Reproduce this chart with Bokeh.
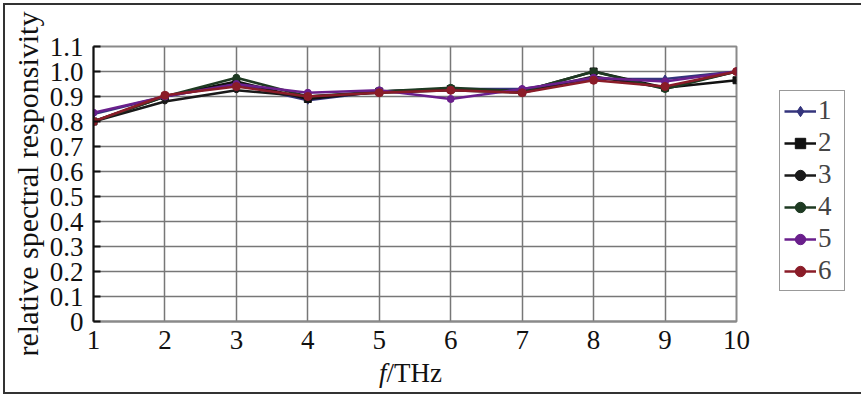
from bokeh.plotting import figure
from bokeh.models import Legend, LegendItem, FixedTicker, Div
from bokeh.layouts import column
from bokeh.embed import file_html
from bokeh.resources import INLINE

freq = [1, 2, 3, 4, 5, 6, 7, 8, 9, 10]
s1 = [0.83, 0.90, 0.95, 0.885, 0.92, 0.93, 0.93, 0.97, 0.97, 1.00]
s2 = [0.80, 0.90, 0.96, 0.89, 0.92, 0.93, 0.92, 1.00, 0.935, 0.965]
s3 = [0.80, 0.88, 0.925, 0.90, 0.915, 0.925, 0.915, 0.98, 0.935, 1.00]
s4 = [0.80, 0.90, 0.975, 0.90, 0.92, 0.935, 0.92, 1.00, 0.93, 1.00]
s5 = [0.835, 0.90, 0.95, 0.915, 0.925, 0.89, 0.93, 0.975, 0.96, 1.00]
s6 = [0.80, 0.905, 0.94, 0.90, 0.915, 0.925, 0.915, 0.965, 0.94, 1.00]
names = ["1", "2", "3", "4", "5", "6"]
series = [s1, s2, s3, s4, s5, s6]
colors = ["#34347c", "#111111", "#1a1a1a", "#1e3a22", "#6a1f8c", "#8a1c28"]
markers = ["diamond", "square", "circle", "circle", "circle", "circle"]
msizes = [8, 7, 5, 7, 7, 8]
yticks = [0, 0.1, 0.2, 0.3, 0.4, 0.5, 0.6, 0.7, 0.8, 0.9, 1.0, 1.1]
ytick_labels = ["0", "0.1", "0.2", "0.3", "0.4", "0.5", "0.6", "0.7", "0.8", "0.9", "1.0", "1.1"]

FONT = "Liberation Serif"

p = figure(frame_width=643, frame_height=275, x_range=(1, 10), y_range=(0, 1.1),
           output_backend="svg", toolbar_location=None,
           min_border_left=88, min_border_right=117, min_border_top=41, min_border_bottom=34)
p.outline_line_color = "#8a8a8a"
p.outline_line_width = 2

p.xaxis.ticker = FixedTicker(ticks=freq)
p.yaxis.ticker = FixedTicker(ticks=yticks)
p.yaxis.major_label_overrides = {t: l for t, l in zip(yticks, ytick_labels)}
for ax in (p.xaxis, p.yaxis):
    ax.major_label_text_font = FONT
    ax.major_label_text_font_size = "27px"
    ax.major_label_text_color = "#111"
    ax.minor_tick_line_color = None
p.xaxis.major_tick_line_color = None
p.xaxis.axis_line_color = "#8a8a8a"
p.xaxis.axis_line_width = 2
p.xaxis.major_label_standoff = 3
p.yaxis.axis_line_color = "#111"
p.yaxis.axis_line_width = 2
p.yaxis.major_tick_in = 7
p.yaxis.major_tick_out = 0
p.yaxis.major_tick_line_width = 2
p.yaxis.major_tick_line_color = "#111"
p.yaxis.major_label_standoff = 10
p.yaxis.axis_label = "relative spectral responsivity"
p.yaxis.axis_label_text_font = FONT
p.yaxis.axis_label_text_font_size = "30px"
p.yaxis.axis_label_text_font_style = "normal"
p.yaxis.axis_label_text_color = "#111"
p.yaxis.axis_label_standoff = 3

p.xgrid.grid_line_color = "#777"
p.xgrid.grid_line_width = 1.5
p.ygrid.grid_line_color = "#777"
p.ygrid.grid_line_width = 1.5

items = []
for name, ys, c, m, ms in zip(names, series, colors, markers, msizes):
    r1 = p.line(freq, ys, line_color=c, line_width=2.5)
    r2 = p.scatter(freq, ys, marker=m, size=ms, fill_color=c, line_color=c)
    items.append(LegendItem(label=name, renderers=[r1, r2]))

legend = Legend(items=items, location=(43, 30), margin=0, padding=4,
                label_text_font=FONT, label_text_font_size="27px",
                label_height=26, label_width=22, glyph_height=26, glyph_width=32, spacing=1,
                border_line_color="#333", border_line_width=1.5,
                label_standoff=2)
p.add_layout(legend, "right")

xlabel = Div(text="<i>f</i>/THz", width=848, height=27,
             styles={"font-family": FONT, "font-size": "27px", "color": "#111",
                     "line-height": "27px", "padding-left": "369px"})

layout = column(p, xlabel, spacing=0,
                styles={"border": "2px solid #333", "margin-left": "3px", "margin-top": "3px"})

open("out.html", "w").write(file_html(layout, INLINE))
